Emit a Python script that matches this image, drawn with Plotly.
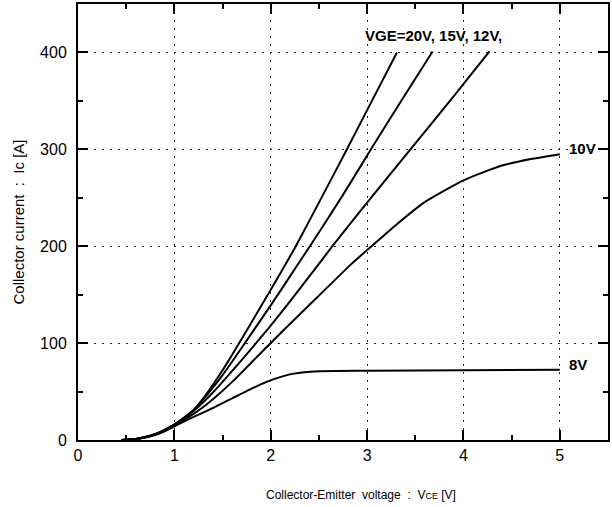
import plotly.graph_objects as go

# ---- data ----
vge_20_x = [0.45, 0.6, 0.7, 0.8, 0.9, 1.0, 1.1, 1.2, 1.3, 1.4, 1.5, 1.6, 1.78, 2.0, 2.26, 2.5, 2.78, 3.05, 3.31]
vge_20_y = [0, 1, 3, 6, 10.5, 16, 23, 31, 43, 57, 72, 88, 118, 155, 200, 245, 298, 350, 400]

vge_15_x = [0.45, 0.6, 0.7, 0.8, 0.9, 1.0, 1.1, 1.2, 1.3, 1.4, 1.5, 1.6, 1.78, 2.0, 2.32, 2.42, 2.75, 3.04, 3.36, 3.68]
vge_15_y = [0, 1, 3, 6, 10.5, 16, 23, 31, 42, 54, 67, 81, 107, 139, 187, 202, 253, 300, 351, 401]

vge_12_x = [0.45, 0.6, 0.7, 0.8, 0.9, 1.0, 1.1, 1.2, 1.3, 1.4, 1.5, 1.65, 1.78, 2.0, 2.2, 2.51, 2.64, 3.0, 3.45, 3.9, 4.27]
vge_12_y = [0, 1, 3, 6, 10.5, 16, 23, 30, 39, 49, 60, 77, 92, 118, 143, 183, 200, 245, 300, 355, 401]

vge_10_x = [0.45, 0.6, 0.7, 0.8, 0.9, 1.0, 1.1, 1.2, 1.3, 1.4, 1.6, 1.8, 2.13, 2.48, 2.83, 3.0, 3.3, 3.59, 4.0, 4.39, 4.7, 5.0]
vge_10_y = [0, 1, 3, 6, 10, 15, 21, 27, 34, 42, 60, 80, 113, 147, 181, 196, 222, 245, 268, 283, 290, 295]

vge_8_x = [0.45, 0.6, 0.7, 0.8, 0.9, 1.0, 1.16, 1.4, 1.6, 1.78, 2.01, 2.24, 2.5, 3.0, 4.0, 5.0]
vge_8_y = [0, 1, 2.5, 5, 9, 14, 22, 33, 43, 52, 62, 68.5, 71, 71.5, 72, 72.5]

series = [
    (vge_20_x, vge_20_y),
    (vge_15_x, vge_15_y),
    (vge_12_x, vge_12_y),
    (vge_10_x, vge_10_y),
    (vge_8_x, vge_8_y),
]

label_texts = ["VGE=20V, 15V, 12V,", "10V", "8V"]
label_x = [2.96, 5.07, 5.07]
label_y = [418, 301, 78]

x_ticks = [0, 1, 2, 3, 4, 5]
y_ticks = [0, 100, 200, 300, 400]

NB = "\u00a0"
x_title = f"Collector-Emitter{NB}{NB}voltage{NB}{NB}:{NB}{NB}V<span style='font-size:9px'>CE</span> [V]"
y_title = f"Collector current{NB}{NB}:{NB}{NB}Ic [A]"

fig = go.Figure()
for xs, ys in series:
    fig.add_trace(go.Scatter(
        x=xs, y=ys, mode="lines",
        line=dict(color="black", width=2, shape="spline", smoothing=0.5),
        showlegend=False, hoverinfo="skip",
    ))

label_font = dict(family="Liberation Sans, Arial, sans-serif", size=15, color="black")
for t, lx, ly in zip(label_texts, label_x, label_y):
    fig.add_annotation(x=lx, y=ly, text=f"<b>{t}</b>", showarrow=False,
                       xanchor="left", yanchor="middle", font=label_font)

# x-axis title (placed as paper annotation to match the reference position)
fig.add_annotation(xref="paper", yref="paper", x=0.534, y=-0.126,
                   text=x_title, showarrow=False, xanchor="center", yanchor="middle",
                   font=dict(family="Liberation Sans, Arial, sans-serif", size=12, color="black"))

axis_common = dict(
    showline=True, linecolor="black", linewidth=2, mirror="ticks",
    ticks="inside", ticklen=10, tickwidth=2, tickcolor="black",
    showgrid=True, gridcolor="#222222", gridwidth=1, griddash="2px,6px",
    zeroline=False,
    tickfont=dict(family="Liberation Sans, Arial, sans-serif", size=16, color="black"),
)

fig.update_xaxes(
    range=[0, 5.5], tickvals=x_ticks, ticktext=[str(v) for v in x_ticks],
    minor=dict(dtick=0.5, ticks="inside", ticklen=5, tickwidth=2, tickcolor="black", showgrid=False),
    ticklabelstandoff=0,
    **axis_common,
)
fig.update_yaxes(
    range=[0, 450], tickvals=y_ticks, ticktext=[str(v) for v in y_ticks],
    minor=dict(dtick=50, ticks="inside", ticklen=5, tickwidth=2, tickcolor="black", showgrid=False),
    title=dict(text=y_title,
               font=dict(family="Liberation Sans, Arial, sans-serif", size=15, color="black"),
               standoff=12),
    ticklabelstandoff=6,
    **axis_common,
)

fig.update_layout(
    width=612, height=507,
    margin=dict(l=78, r=4, t=2, b=67),
    paper_bgcolor="white", plot_bgcolor="white",
)

fig.write_html("out.html")
